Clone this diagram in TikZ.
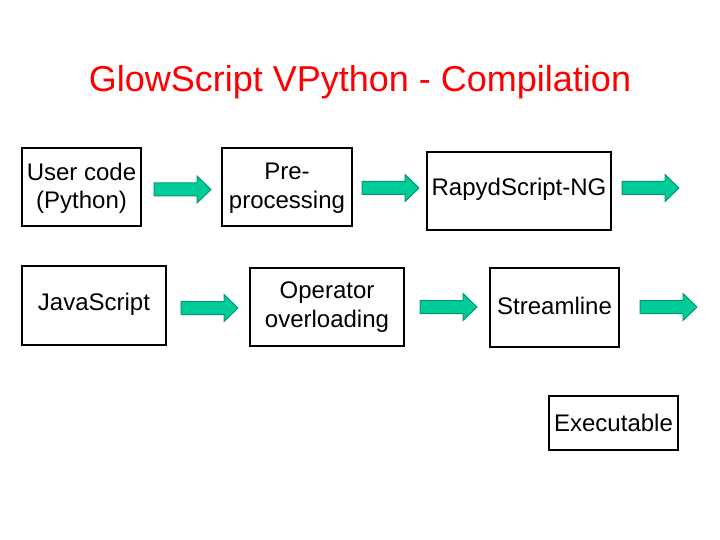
\documentclass[tikz,border=0pt]{standalone}
\usepackage{fontspec}
\setmainfont{Liberation Sans}
\definecolor{titlered}{HTML}{FF0000}
\definecolor{arrowfill}{HTML}{00CC99}
\definecolor{arrowline}{HTML}{009A70}
\newcommand{\blkarrow}[3]{% name, x0, yc
  \draw[blockarrow] (#2,#3-6.5) -- (#2+43,#3-6.5) -- (#2+43,#3-13.5) -- (#2+57,#3)
    -- (#2+43,#3+13.5) -- (#2+43,#3+6.5) -- (#2,#3+6.5) -- cycle;
  \coordinate (#1) at (#2+28.5,#3);}
\begin{document}
\begin{tikzpicture}[x=1pt,y=-1pt,
  stage/.style={draw=black, line width=2pt, inner sep=0pt, align=center,
    font=\fontsize{24}{28.5}\selectfont},
  stagetext/.style={font=\fontsize{24}{28.5}\selectfont, align=center},
  blockarrow/.style={fill=arrowfill, draw=arrowline, line width=1pt, line join=miter}]
\useasboundingbox (0,0) rectangle (720,540);
\node[text=titlered, font=\fontsize{36}{40}\selectfont, anchor=base] (title) at (360,92) {GlowScript VPython - Compilation};
% row 1
\node[stage, minimum width=119pt, minimum height=78pt] (user) at (81.5,187) {};
\node[stagetext] (usert) at (user.center) [yshift=-1.5pt] {User code\\(Python)};
\node[stage, minimum width=130pt, minimum height=78pt] (pre) at (287,187) {};
\node[stagetext] (pret) at (pre.center) [yshift=-1pt] {Pre-\\processing};
\node[stage, minimum width=184pt, minimum height=78pt] (rapyd) at (519,191) {};
\node[stagetext] (rapydt) at (rapyd.center) [yshift=1.5pt] {RapydScript-NG};
% row 2
\node[stage, minimum width=144pt, minimum height=79pt] (js) at (94,305.5) {};
\node[stagetext] (jst) at (js.center) [yshift=1.5pt] {JavaScript};
\node[stage, minimum width=154pt, minimum height=78pt] (op) at (327,307) {Operator\\overloading};
\node[stage, minimum width=129pt, minimum height=79pt] (stream) at (554.5,307.5) {};
\node[stagetext] (streamt) at (stream.center) [yshift=2pt] {Streamline};
% row 3
\node[stage, minimum width=129pt, minimum height=54pt] (exe) at (613.5,423) {Executable};
% block arrows
\blkarrow{a1}{154}{189.5}
\blkarrow{a2}{362}{188}
\blkarrow{a3}{622}{188}
\blkarrow{a4}{181}{308}
\blkarrow{a5}{420}{307}
\blkarrow{a6}{640}{307}
\end{tikzpicture}
\end{document}
